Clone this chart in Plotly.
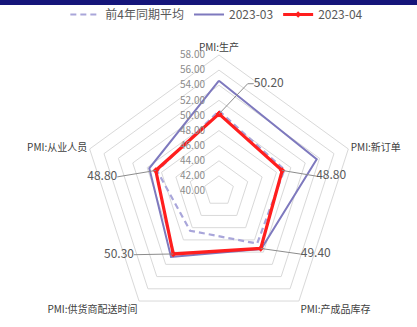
import math
import plotly.graph_objects as go

# PMI sub-indices (%)
categories = ["PMI:生产", "PMI:新订单", "PMI:产成品库存", "PMI:供货商配送时间", "PMI:从业人员"]
avg_prev4 = [50.6, 49.1, 48.6, 46.5, 48.6]
mar_2023 = [54.6, 53.6, 49.5, 50.8, 49.7]
apr_2023 = [50.2, 48.8, 49.4, 50.3, 48.8]
radial_ticks = [40, 42, 44, 46, 48, 50, 52, 54, 56, 58]
series_names = ["前4年同期平均", "2023-03", "2023-04"]

R_MIN, R_MAX = 40, 58

# Leader lines for the 2023-04 value labels: offsets from the point, in radial units (x right, y up)
label_offsets = [
    [(3.8, 4.0), (4.6, 4.0)],
    [(4.5, -0.75)],
    [(5.3, -0.75)],
    [(-5.2, -0.1)],
    [(-5.1, -0.85)],
]
label_side = ["middle right", "middle right", "middle right", "middle left", "middle left"]

FONT = "Noto Sans CJK SC"
GRID = "#d9d9d9"
DOMAIN = dict(x=[0.1990, 0.8513], y=[0.0, 0.8318])


def closed(values):
    return list(values) + [values[0]]


fig = go.Figure()

fig.add_trace(go.Scatterpolar(
    r=closed(avg_prev4), theta=closed(categories), name=series_names[0],
    mode="lines", line=dict(color="#A9A6DA", width=2.2, dash="6px,4px"),
    subplot="polar",
))
fig.add_trace(go.Scatterpolar(
    r=closed(mar_2023), theta=closed(categories), name=series_names[1],
    mode="lines", line=dict(color="#7E79BE", width=2),
    subplot="polar",
))
fig.add_trace(go.Scatterpolar(
    r=closed(apr_2023), theta=closed(categories), name=series_names[2],
    mode="lines+markers", line=dict(color="#FF1E1E", width=3.2),
    marker=dict(symbol="diamond", size=5, color="#FF1E1E"),
    subplot="polar",
))

# Value labels with leader lines, drawn on an overlaid numeric-angle polar
n = len(categories)
for i, v in enumerate(apr_2023):
    phi = math.radians(90 - 360 / n * i)
    x0, y0 = (v - R_MIN) * math.cos(phi), (v - R_MIN) * math.sin(phi)
    rs, ths = [v], [math.degrees(phi)]
    for dx, dy in label_offsets[i]:
        x, y = x0 + dx, y0 + dy
        rs.append(R_MIN + math.hypot(x, y))
        ths.append(math.degrees(math.atan2(y, x)))
    fig.add_trace(go.Scatterpolar(
        r=rs, theta=ths, mode="lines", line=dict(color="#8c8c8c", width=1),
        showlegend=False, hoverinfo="skip", cliponaxis=False, subplot="polar2",
    ))
    fig.add_trace(go.Scatterpolar(
        r=[rs[-1]], theta=[ths[-1]], mode="text", text=[f"{v:.2f}"],
        textposition=label_side[i], textfont=dict(family=FONT, size=12, color="#595959"),
        showlegend=False, hoverinfo="skip", cliponaxis=False, subplot="polar2",
    ))

fig.update_layout(
    width=417, height=327,
    margin=dict(l=0, r=0, t=0, b=0, autoexpand=False),
    paper_bgcolor="white",
    font=dict(family=FONT, color="#595959"),
    polar=dict(
        domain=DOMAIN,
        bgcolor="white",
        gridshape="linear",
        radialaxis=dict(
            range=[R_MIN, R_MAX], tickvals=radial_ticks, tickformat=".2f",
            angle=90, side="counterclockwise", tickangle=90,
            showline=False, ticks="outside", ticklen=10, tickcolor="rgba(0,0,0,0)",
            gridcolor=GRID, gridwidth=1,
            tickfont=dict(family=FONT, size=10, color="#8c8c8c"),
        ),
        angularaxis=dict(
            type="category", rotation=90, direction="clockwise",
            showgrid=False, showline=True, linecolor=GRID, linewidth=1, ticks="",
            tickfont=dict(family=FONT, size=10, color="#404040"),
        ),
    ),
    polar2=dict(
        domain=DOMAIN,
        bgcolor="rgba(0,0,0,0)",
        radialaxis=dict(range=[R_MIN, R_MAX], visible=False),
        angularaxis=dict(type="linear", rotation=0, direction="counterclockwise", visible=False),
    ),
    showlegend=True,
    legend=dict(
        orientation="h", x=0.52, xanchor="center", y=1.0, yanchor="top",
        font=dict(family=FONT, size=12, color="#595959"),
        bgcolor="rgba(0,0,0,0)",
    ),
    shapes=[dict(
        type="rect", xref="paper", yref="paper", x0=0, x1=1, y0=1 - 5 / 327, y1=1,
        fillcolor="#15157A", line=dict(width=0), layer="above",
    )],
)

fig.write_html("out.html")
